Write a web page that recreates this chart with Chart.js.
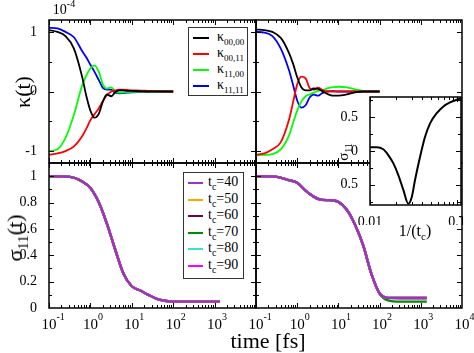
<!DOCTYPE html>
<html>
<head>
<meta charset="utf-8">
<script src="https://cdn.jsdelivr.net/npm/chart.js@4.4.1/dist/chart.umd.min.js"></script>
<style>
  body { margin: 0; background: #fff; }
  #wrap { position: relative; width: 474px; height: 353px; font-family: 'Liberation Serif', 'Times New Roman', serif; color: #000; }
  #wrap canvas { position: absolute; left: 0; top: 0; }
  .lbl { position: absolute; white-space: nowrap; line-height: 1; transform: translate(-50%, -50%); }
  .rot { transform: translate(-50%, -50%) rotate(-90deg); }
  .box { position: absolute; border: 1px solid #333; background: #fff; }
  .sw { position: absolute; }
  .txt { position: absolute; font-size: 14px; line-height: 16px; white-space: nowrap; }
  .sb { font-size: 9px; position: relative; top: 4px; }
</style>
</head>
<body>
<div id="wrap">
  <canvas id="tl" width="474" height="353"></canvas>
  <canvas id="tr" width="474" height="353"></canvas>
  <canvas id="bl" width="474" height="353"></canvas>
  <canvas id="br" width="474" height="353"></canvas>
  <canvas id="inset" width="474" height="353"></canvas>

  <div class="lbl" style="left:64px; top:10px; font-size:14px;">10<span style="font-size:10px; position:relative; top:-7px;">-4</span></div>
  <div class="lbl rot" style="left:23px; top:92px; font-size:22px;">κ(t)</div>
  <div class="lbl rot" style="left:15px; top:238px; font-size:22px;">σ<span style="font-size:15px; position:relative; top:6px;">11</span>(t)</div>
  <div class="lbl" style="left:268px; top:341px; font-size:22px;">time [fs]</div>
  <div class="lbl rot" style="left:343px; top:152px; font-size:15px;">σ<span style="font-size:10px; position:relative; top:4px;">11</span></div>
  <div class="lbl" style="left:415px; top:231px; font-size:16px;">1/(t<span style="font-size:11px; position:relative; top:4px;">c</span>)</div>

  <div id="legTop" class="box" style="left:188px; top:27px; width:58px; height:67px;"></div>
  <div id="legBot" class="box" style="left:183px; top:172px; width:59px; height:105px;"></div>
</div>

<script>
// time axis (fs), shared by all four panels
const timeDecades = [0.1, 1, 10, 100, 1000];
const timeLabelsLeft = [0.1, 1, 10, 100, 1000];
const timeLabelsRight = [0.1, 1, 10, 100, 1000, 10000];
const kappaTicks = [-1, 0, 1];
const kappaMinor = [-0.5, 0.5];
const sigmaTicks = [0, 0.2, 0.4, 0.6, 0.8, 1];
const sigmaMinor = [0.1, 0.3, 0.5, 0.7, 0.9];
const insetXTicks = [0.01, 0.1];
const insetYTicks = [-0.5, 0, 0.5];
const insetYMinor = [-0.75, -0.25, 0.25, 0.75];

const kappaNames = ['00,00', '00,11', '11,00', '11,11'];
const kappaColors = ['#000000', '#ff0000', '#00ff00', '#0000ff'];
const tcValues = [40, 50, 60, 70, 80, 90];
const tcColors = ['#9a32cd', '#ffa500', '#670748', '#008b00', '#40e0d0', '#ff00ff'];

// kappa(t) in units of 1e-4
const tTop = [0.1, 0.16, 0.25, 0.4, 0.63, 0.8, 1, 1.26, 1.6, 2, 2.5, 3.2, 4, 5, 6.3, 7.9, 10, 16, 25, 40, 63, 100];
const k0000Left = [1.03, 1.0, 0.93, 0.72, 0.25, -0.08, -0.32, -0.44, -0.37, -0.17, -0.05, -0.08, -0.01, 0.02, 0.02, 0.01, 0.01, 0.005, 0, 0, 0, 0];
const k0011Left = [-1.06, -1.04, -1.0, -0.92, -0.75, -0.62, -0.48, -0.38, -0.28, -0.16, -0.06, 0.0, 0.02, 0.03, 0.03, 0.025, 0.02, 0.015, 0.01, 0.005, 0, 0];
const k1100Left = [-1.0, -0.97, -0.78, -0.39, 0.1, 0.27, 0.39, 0.44, 0.33, 0.12, 0.05, 0.07, 0.0, -0.02, -0.015, -0.01, -0.005, 0, 0, 0, 0, 0];
const k1111Left = [1.07, 1.06, 1.0, 0.91, 0.68, 0.57, 0.45, 0.33, 0.19, 0.06, 0.03, 0.03, -0.02, -0.03, -0.025, -0.02, -0.015, -0.01, -0.005, 0, 0, 0];

const k0000Right = [1.04, 1.03, 1.0, 0.9, 0.65, 0.46, 0.24, 0.07, 0.02, 0.02, 0.05, 0.045, 0.01, -0.03, -0.06, -0.07, -0.07, -0.05, -0.015, 0, 0, 0];
const k0011Right = [-1.06, -1.04, -0.97, -0.85, -0.48, -0.17, 0.12, 0.25, 0.22, 0.06, 0.03, 0.065, 0.03, 0.0, 0, 0, 0, 0, 0, 0, 0, 0];
const k1100Right = [-1.07, -1.065, -1.05, -0.97, -0.74, -0.52, -0.32, -0.17, -0.08, -0.05, -0.02, 0.01, 0.025, 0.045, 0.065, 0.075, 0.08, 0.07, 0.035, 0.01, 0, 0];
const k1111Right = [1.0, 0.99, 0.93, 0.72, 0.36, 0.1, -0.15, -0.27, -0.23, -0.1, -0.05, -0.07, -0.03, 0.0, 0.005, 0.005, 0, 0, 0, 0, 0, 0];

// sigma_11(t)
const tBotLeft = [0.1, 0.32, 0.63, 1, 1.6, 2.5, 4, 6.3, 10, 16, 25, 40, 63, 100, 316, 1000, 1350];
const sigmaLeft = [1.0, 0.995, 0.96, 0.91, 0.8, 0.64, 0.44, 0.26, 0.165, 0.133, 0.1, 0.07, 0.055, 0.048, 0.048, 0.048, 0.048];
const tBotRight = [0.1, 0.32, 0.63, 1, 1.6, 2.5, 4, 6.3, 10, 16, 25, 40, 63, 100, 160, 316, 1000, 1400];
const sigmaRight = [1.0, 0.995, 0.97, 0.95, 0.89, 0.845, 0.82, 0.818, 0.805, 0.745, 0.635, 0.475, 0.26, 0.11, 0.077, 0.076, 0.076, 0.076];
const sigmaRightTc70 = [1.0, 0.995, 0.97, 0.95, 0.89, 0.845, 0.82, 0.818, 0.805, 0.745, 0.635, 0.475, 0.26, 0.11, 0.058, 0.048, 0.048, 0.048];

// inset: sigma_11 vs 1/t_c
const invTc = [0.01, 0.0119, 0.0142, 0.0162, 0.0185, 0.0212, 0.0242, 0.0275, 0.0302, 0.0329, 0.0376, 0.0429, 0.049, 0.0585, 0.0697, 0.0832, 0.0993, 0.111];
const sigmaInset = [0.055, 0.055, 0.025, -0.06, -0.18, -0.36, -0.58, -0.78, -0.68, -0.43, -0.085, 0.21, 0.41, 0.56, 0.66, 0.72, 0.76, 0.78];

const FONT = 'Liberation Serif';

function minorLog(decades, max) {
    const out = [];
    decades.forEach(d => {
        for (let k = 2; k <= 9; k++) {
            if (d * k <= max) out.push(d * k);
        }
    });
    return out;
}

function points(xs, ys) {
    return xs.map((x, i) => ({ x: x, y: ys[i] }));
}

// frame with inward ticks on all four sides
const frameTicks = {
    id: 'frameTicks',
    afterDatasetsDraw(chart, args, opts) {
        const { ctx, chartArea: a } = chart;
        const x = chart.scales.x, y = chart.scales.y;
        ctx.save();
        ctx.strokeStyle = '#000';
        ctx.lineWidth = 1;
        ctx.beginPath();
        const xt = (vals, len) => (vals || []).forEach(v => {
            const px = Math.round(x.getPixelForValue(v)) + 0.5;
            if (px < a.left || px > a.right) return;
            ctx.moveTo(px, a.bottom); ctx.lineTo(px, a.bottom - len);
            ctx.moveTo(px, a.top); ctx.lineTo(px, a.top + len);
        });
        const yt = (vals, len) => (vals || []).forEach(v => {
            const py = Math.round(y.getPixelForValue(v)) + 0.5;
            if (py < a.top || py > a.bottom) return;
            ctx.moveTo(a.left, py); ctx.lineTo(a.left + len, py);
            ctx.moveTo(a.right, py); ctx.lineTo(a.right - len, py);
        });
        xt(opts.xMajor, 5); xt(opts.xMinor, 3);
        yt(opts.yMajor, 5); yt(opts.yMinor, 3);
        ctx.stroke();
        ctx.lineWidth = 1.5;
        ctx.strokeRect(a.left, a.top, a.right - a.left, a.bottom - a.top);
        ctx.restore();
    }
};

// "10^n" labels under the time axis
const powerLabels = {
    id: 'powerLabels',
    afterDraw(chart, args, opts) {
        if (!opts.values) return;
        const { ctx, chartArea: a } = chart;
        const x = chart.scales.x;
        ctx.save();
        ctx.fillStyle = '#000';
        ctx.textBaseline = 'alphabetic';
        ctx.textAlign = 'left';
        opts.values.forEach(v => {
            const px = x.getPixelForValue(v);
            const exp = String(Math.round(Math.log10(v)));
            ctx.font = '15px "' + FONT + '"';
            const w = ctx.measureText('10').width;
            ctx.fillText('10', px - w / 2, a.bottom + 20.5);
            ctx.font = '10px "' + FONT + '"';
            ctx.fillText(exp, px + w / 2, a.bottom + 11.5);
        });
        ctx.restore();
    }
};

const whiteArea = {
    id: 'whiteArea',
    beforeDraw(chart, args, opts) {
        if (!opts.on) return;
        const a = chart.chartArea;
        chart.ctx.save();
        chart.ctx.fillStyle = '#fff';
        chart.ctx.fillRect(a.left, a.top, a.right - a.left, a.bottom - a.top);
        chart.ctx.restore();
    }
};

function yAxis(min, max, ticks, show, width) {
    return {
        type: 'linear', min: min, max: max, display: show,
        grid: { display: false }, border: { display: false },
        // hidden axes still run afterFit, so give them no width
        afterFit: s => { s.width = show ? width : 0; },
        afterBuildTicks: s => { s.ticks = ticks.map(v => ({ value: v })); },
        ticks: { color: '#000', padding: 4, autoSkip: false, font: { family: FONT, size: 14 }, callback: v => String(v) }
    };
}

function makePanel(id, datasets, cfg) {
    return new Chart(document.getElementById(id), {
        type: 'line',
        data: { datasets: datasets },
        options: {
            responsive: false, animation: false, events: [],
            layout: { padding: cfg.padding },
            elements: { point: { radius: 0 }, line: { cubicInterpolationMode: 'monotone' } },
            scales: {
                x: { type: 'logarithmic', min: 0.1, max: 10000, display: false, afterFit: s => { s.height = 0; } },
                y: yAxis(cfg.yMin, cfg.yMax, cfg.yTicks, cfg.showY, 40)
            },
            plugins: {
                legend: { display: false }, tooltip: { enabled: false },
                frameTicks: {
                    xMajor: timeDecades.concat([10000]), xMinor: minorLog(timeDecades, 10000),
                    yMajor: cfg.yTicks, yMinor: cfg.yMinor
                },
                powerLabels: { values: cfg.xLabels }
            }
        },
        plugins: [frameTicks, powerLabels]
    });
}

function kappaSets(series) {
    return series.map((vals, i) => ({
        label: 'κ' + kappaNames[i], data: points(tTop, vals),
        borderColor: kappaColors[i], borderWidth: 1.8, fill: false
    }));
}

function sigmaSets(xs, seriesList) {
    return seriesList.map((vals, i) => ({
        label: 't_c=' + tcValues[i], data: points(xs, vals),
        borderColor: tcColors[i], borderWidth: 2.4, fill: false
    }));
}

makePanel('tl', kappaSets([k0000Left, k0011Left, k1100Left, k1111Left]), {
    padding: { left: 9, top: 20, right: 218, bottom: 190 },
    yMin: -1.2, yMax: 1.2, yTicks: kappaTicks, yMinor: kappaMinor, showY: true
});
makePanel('tr', kappaSets([k0000Right, k0011Right, k1100Right, k1111Right]), {
    padding: { left: 256, top: 20, right: 12, bottom: 190 },
    yMin: -1.2, yMax: 1.2, yTicks: kappaTicks, yMinor: kappaMinor, showY: false
});
makePanel('bl', sigmaSets(tBotLeft, [sigmaLeft, sigmaLeft, sigmaLeft, sigmaLeft, sigmaLeft, sigmaLeft]), {
    padding: { left: 9, top: 163, right: 218, bottom: 45 },
    yMin: 0, yMax: 1.1, yTicks: sigmaTicks, yMinor: sigmaMinor, showY: true, xLabels: timeLabelsLeft
});
makePanel('br', sigmaSets(tBotRight, [sigmaRight, sigmaRight, sigmaRight, sigmaRightTc70, sigmaRight, sigmaRight]), {
    padding: { left: 256, top: 163, right: 12, bottom: 45 },
    yMin: 0, yMax: 1.1, yTicks: sigmaTicks, yMinor: sigmaMinor, showY: false, xLabels: timeLabelsRight
});

// inset
new Chart(document.getElementById('inset'), {
    type: 'line',
    data: { datasets: [{ label: 'sigma11', data: points(invTc, sigmaInset), borderColor: '#000', borderWidth: 2, fill: false }] },
    options: {
        responsive: false, animation: false, events: [],
        layout: { padding: { left: 340, top: 97, right: 13, bottom: 128 } },
        elements: { point: { radius: 0 }, line: { cubicInterpolationMode: 'monotone' } },
        scales: {
            x: {
                type: 'logarithmic', min: 0.01, max: 0.111,
                grid: { display: false }, border: { display: false },
                afterFit: s => { s.height = 20; },
                afterBuildTicks: s => { s.ticks = insetXTicks.map(v => ({ value: v })); },
                ticks: { color: '#000', padding: 1, maxRotation: 0, autoSkip: false, font: { family: FONT, size: 14 }, callback: v => String(v) }
            },
            y: yAxis(-0.8, 0.8, insetYTicks, true, 30)
        },
        plugins: {
            legend: { display: false }, tooltip: { enabled: false },
            whiteArea: { on: true },
            frameTicks: { xMajor: insetXTicks, xMinor: minorLog([0.01], 0.111), yMajor: insetYTicks, yMinor: insetYMinor }
        }
    },
    plugins: [whiteArea, frameTicks]
});

// legends
function buildLegend(boxId, names, colors, rowTop, rowStep, swLeft, swWidth, swHeight, textLeft) {
    const box = document.getElementById(boxId);
    const bx = box.offsetLeft + 1, by = box.offsetTop + 1;
    names.forEach((html, i) => {
        const cy = rowTop + rowStep * i;
        const sw = document.createElement('div');
        sw.className = 'sw';
        sw.style.cssText = `left:${swLeft - bx}px; top:${cy - swHeight / 2 - by}px; width:${swWidth}px; height:${swHeight}px; background:${colors[i]};`;
        box.appendChild(sw);
        const t = document.createElement('div');
        t.className = 'txt';
        t.style.cssText = `left:${textLeft - bx}px; top:${cy - 9 - by}px;`;
        t.innerHTML = html;
        box.appendChild(t);
    });
}

buildLegend('legTop', kappaNames.map(n => 'κ<span class="sb">' + n + '</span>'), kappaColors,
    37.5, 16, 193, 16, 2, 217);
buildLegend('legBot', tcValues.map(v => 't<span class="sb" style="font-size:10px">c</span>=' + v), tcColors,
    183, 16.6, 188, 15, 2, 208);
</script>
</body>
</html>
